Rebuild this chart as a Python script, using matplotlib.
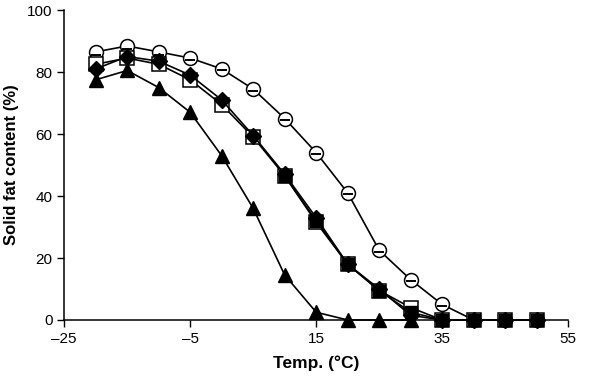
import matplotlib
matplotlib.use("Agg")
import matplotlib.pyplot as plt
from matplotlib.ticker import FuncFormatter

plt.rcParams["font.family"] = ["Liberation Sans", "DejaVu Sans"]

nan = float("nan")
temp = [-20, -15, -10, -5, 0, 5, 10, 15, 20, 25, 30, 35, 40, 45, 50]
circles = [86.5, 88.4, 86.5, 84.5, 81, 74.5, 65, 54, 41, 22.5, 13, 5, 0, 0, 0]
dashes = [85.5, 87.5, 85.5, 84, 80.5, 74, 64.5, 53.5, 40.5, 22, 12.5, 4.5, 0, 0, 0]
squares_open = [82.5, 84.5, 82.5, 77.5, 69.5, 59, 46.5, 31.5, 18, 9.5, 4, 0, 0, 0, 0]
# filled squares only show from 10 °C upward
squares_fill = [nan, nan, nan, nan, nan, nan, 46.5, 32, 18, 9.5, 2.5, 0, 0, 0, 0]
diamonds = [81, 85, 83.5, 79, 71, 59.5, 47, 33, 18, 10, 1.5, 0, 0, 0, 0]
temp_tri = [-20, -15, -10, -5, 0, 5, 10, 15, 20, 25, 30]
triangles = [77.5, 80.5, 75, 67, 53, 36, 14.5, 2.5, 0, 0, 0]

xticks = [-25, -5, 15, 35, 55]
yticks = [0, 20, 40, 60, 80, 100]

fig = plt.figure(figsize=(6.0, 3.86), dpi=100)
ax = fig.add_axes([0.107, 0.171, 0.84, 0.803])

lw = 1.2
ax.plot(temp, circles, "-o", color="black", lw=lw, ms=10, mfc="white",
        mec="black", mew=1.1, clip_on=False, zorder=3)
ax.plot(temp, dashes, "_", color="black", ms=7, mew=1.4, clip_on=False, zorder=4)
ax.plot(temp, squares_open, "-s", color="black", lw=lw, ms=9.5, mfc="white",
        mec="black", mew=1.1, clip_on=False, zorder=3)
ax.plot(temp, squares_fill, "-s", color="black", lw=lw, ms=8.3, mfc="black",
        mec="black", mew=1, clip_on=False, zorder=4)
ax.plot(temp, diamonds, "-D", color="black", lw=lw, ms=8, mfc="black",
        mec="black", clip_on=False, zorder=4)
ax.plot(temp_tri, triangles, "-^", color="black", lw=lw, ms=10.5, mfc="black",
        mec="black", clip_on=False, zorder=3)

ax.set_xlim(-25, 55)
ax.set_ylim(0, 100)
ax.set_xticks(xticks)
ax.set_yticks(yticks)
ax.xaxis.set_major_formatter(FuncFormatter(lambda v, p: f"{v:g}".replace("-", "\u2013")))
ax.tick_params(direction="out", length=5, width=1, labelsize=11, colors="black")
for s in ("top", "right"):
    ax.spines[s].set_visible(False)
for s in ("left", "bottom"):
    ax.spines[s].set_linewidth(1.1)

ax.set_xlabel("Temp. (\u00b0C)", fontsize=12.5, fontweight="bold", labelpad=7)
ax.set_ylabel("Solid fat content (%)", fontsize=12, fontweight="bold", labelpad=6)

fig.savefig("out.png", dpi=100)
